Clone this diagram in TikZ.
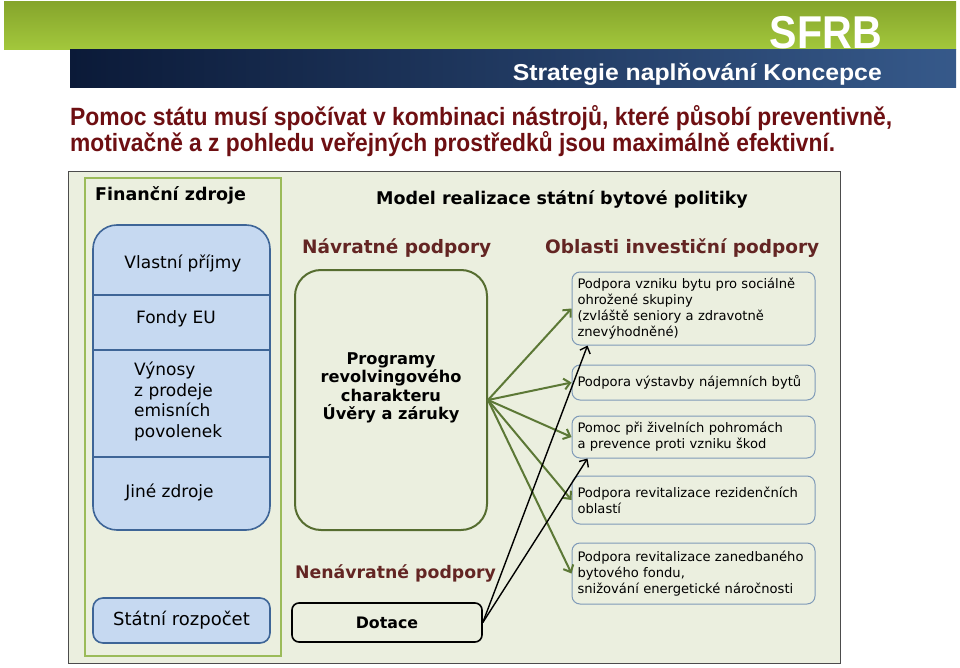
\documentclass[tikz,border=0pt]{standalone}
\usepackage{fontspec}
\setmainfont{DejaVu Sans}
\newfontfamily\headfont{Liberation Sans}
\usepackage{graphicx}
\usetikzlibrary{arrows.meta}

\definecolor{greenA}{HTML}{86A52C}
\definecolor{greenB}{HTML}{A3C83C}
\definecolor{navyA}{HTML}{0B1A38}
\definecolor{navyB}{HTML}{36598A}
\definecolor{titlered}{HTML}{6E0F12}
\definecolor{darkred}{HTML}{632523}
\definecolor{panelbg}{HTML}{EBEFDF}
\definecolor{frameolive}{HTML}{9BBB59}
\definecolor{stackfill}{HTML}{C6D9F1}
\definecolor{stackline}{HTML}{3E6597}
\definecolor{progline}{HTML}{566D30}
\definecolor{arrowgreen}{HTML}{5C7836}
\definecolor{arealine}{HTML}{7F9AB8}

\begin{document}
\begin{tikzpicture}[x=1pt,y=-1pt,
    >={Straight Barb[length=6pt,width=11pt]},
    titletext/.style={anchor=base west, inner sep=0, text=titlered,
        font=\headfont\bfseries\fontsize{25}{30}\selectfont},
    head/.style={inner sep=0, font=\bfseries\fontsize{17.5}{20}\selectfont},
    redhead/.style={head, anchor=base west, text=darkred, font=\bfseries\fontsize{18.5}{22}\selectfont},
    srctext/.style={inner sep=0, font=\fontsize{17}{20.5}\selectfont},
    stackbox/.style={draw=stackline, fill=stackfill, line width=1.6pt},
    area/.style={draw=arealine, fill=panelbg, line width=1pt, rounded corners=8,
        minimum width=243, text width=232, align=left, inner sep=5.5,
        execute at begin node={\hyphenpenalty=10000},
        font=\fontsize{13.1}{16}\selectfont},
    greenarrow/.style={->, draw=arrowgreen, line width=2pt},
    blackarrow/.style={->, draw=black, line width=1.4pt}]
\useasboundingbox (0,0) rectangle (960,668);

% header bands
\shade[top color=greenA, bottom color=greenB] (4,2) rectangle (956,50);
\shade[left color=navyA, right color=navyB] (70,50) rectangle (956,88);
\node[anchor=base east, inner sep=0, text=white] (sfrb) at (882,49)
    {\resizebox{112pt}{\height}{\headfont\bfseries\fontsize{46}{46}\selectfont SFRB}};
\node[anchor=base east, inner sep=0, text=white] (subtitle) at (882,81)
    {\resizebox{369pt}{\height}{\headfont\bfseries\fontsize{23}{26}\selectfont Strategie naplňování Koncepce}};

% title
\node[titletext] (line1) at (70,126)
    {\resizebox{822pt}{\height}{Pomoc státu musí spočívat v kombinaci nástrojů, které působí preventivně,}};
\node[titletext] (line2) at (70,152)
    {\resizebox{765pt}{\height}{motivačně a z pohledu veřejných prostředků jsou maximálně efektivní.}};

% panel
\draw[draw=black!70, fill=panelbg, line width=1pt] (68,172) rectangle (840,663);
\draw[draw=frameolive, line width=1.6pt] (85,178) rectangle (281,656);
\node[head, anchor=base west] (finhead) at (95,201) {Finanční zdroje};
\node[head, anchor=base] (model) at (562,205) {Model realizace státní bytové politiky};

% sources
\draw[stackbox, rounded corners=24] (93,225) rectangle (270,530);
\foreach \y in {295,350,457}
    \draw[stackline, line width=1.6pt] (93,\y) -- (270,\y);
\node[srctext] (own) at (183,263) {Vlastní příjmy};
\node[srctext] (eu) at (176,319) {Fondy EU};
\node[srctext, anchor=north west, align=left] (sales) at (134,362) {Výnosy\\z prodeje\\emisních\\povolenek};
\node[srctext] (other) at (169.5,492) {Jiné zdroje};
\node[stackbox, rounded corners=10, minimum width=177, minimum height=45,
    font=\fontsize{18}{20}\selectfont] (budget) at (181.5,620.5) {Státní rozpočet};

% support types
\node[redhead] (ret) at (302,254) {Návratné podpory};
\node[draw=progline, line width=2pt, rounded corners=26, minimum width=192,
    minimum height=260] (prog) at (391,400) {};
\node[align=center, font=\bfseries\fontsize{16.2}{18.5}\selectfont] (progtext) at (391,388)
    {Programy\\revolvingového\\charakteru\\Úvěry a záruky};
\node[redhead, font=\bfseries\fontsize{17.3}{20}\selectfont] (nonret) at (295,578) {Nenávratné podpory};
\node[draw=black, line width=1.6pt, rounded corners=7, minimum width=190, minimum height=39,
    font=\bfseries\fontsize{15.8}{18}\selectfont] (dot) at (387,622.5) {Dotace};

% areas
\node[redhead] (areas) at (545,254) {Oblasti investiční podpory};
\node[area, minimum height=73] (b1) at (693.5,308.5)
    {Podpora vzniku bytu pro sociálně\\ohrožené skupiny\\(zvláště seniory a zdravotně\\znevýhodněné)};
\node[area, minimum height=35] (b2) at (693.5,382.5) {Podpora výstavby nájemních bytů};
\node[area, minimum height=42] (b3) at (693.5,437)
    {Pomoc při živelních pohromách\\a prevence proti vzniku škod};
\node[area, minimum height=48] (b4) at (693.5,500)
    {Podpora revitalizace rezidenčních\\oblastí};
\node[area, minimum height=61] (b5) at (693.5,573.5)
    {Podpora revitalizace zanedbaného\\bytového fondu,\\snižování energetické náročnosti};

% arrows
\foreach \b in {b1,b2,b3,b4,b5}
    \draw[greenarrow] (prog.east) -- (\b.west);
\coordinate (t1) at ([xshift=16]b1.south west);
\coordinate (t3) at ([xshift=16]b3.south west);
\draw[blackarrow] (dot.east) -- (t1);
\draw[blackarrow] (dot.east) -- (t3);
\end{tikzpicture}
\end{document}
